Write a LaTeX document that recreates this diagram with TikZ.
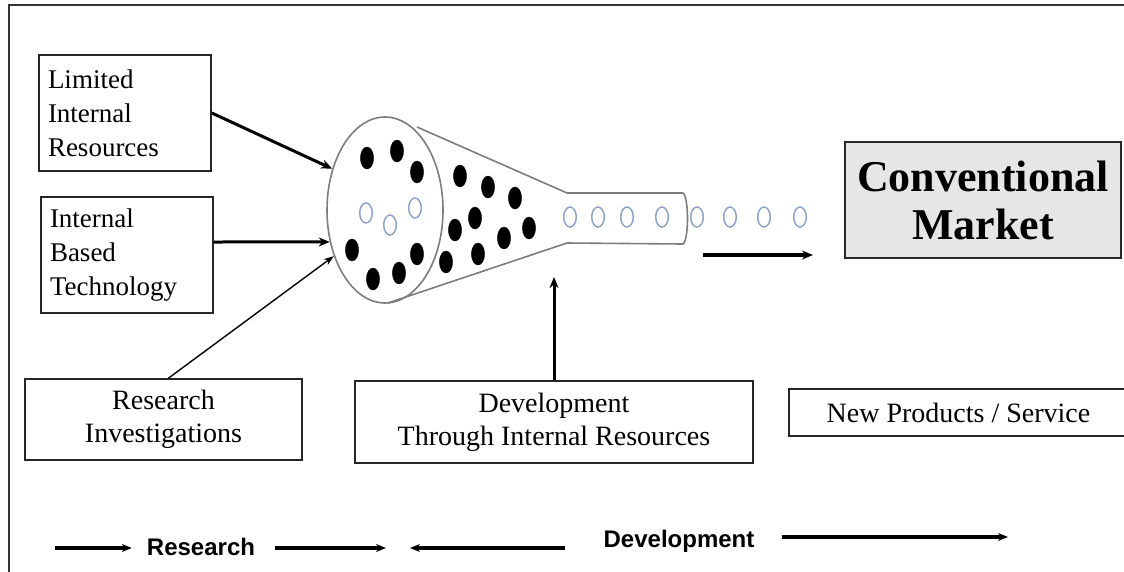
\documentclass[tikz,border=0pt]{standalone}
\usepackage{fontspec}
\setmainfont{Liberation Serif}
\newfontfamily\legendfont{Liberation Sans}
\usetikzlibrary{arrows.meta,shapes.geometric}
\definecolor{bubblecol}{RGB}{140,163,204}
\definecolor{funnelcol}{RGB}{125,125,125}
\definecolor{marketfill}{RGB}{230,230,230}
\begin{document}
\begin{tikzpicture}[x=1pt,y=-1pt,
  box/.style={draw=black!85, line width=1.7pt, inner sep=0pt,
    font=\fontsize{27}{34}\selectfont},
  boxtext/.style={font=\fontsize{28}{33}\selectfont},
  flow/.style={-{Stealth[length=11pt,width=9pt]}, line width=3pt},
  thinflow/.style={-{Stealth[length=10pt,width=7pt]}, line width=1.4pt},
  legendarrow/.style={-{Stealth[length=10pt,width=8pt]}, line width=3.2pt},
  dot/.style={fill=black, draw=black},
  bubble/.style={draw=bubblecol, line width=1.5pt},
  funnel/.style={draw=funnelcol, line width=1.6pt},
  legend/.style={font=\legendfont\bfseries\fontsize{24}{28}\selectfont, inner sep=0pt},
]
\useasboundingbox (0,0) rectangle (1124,571);
\clip (0,0) rectangle (1124,571);

% outer frame (left and top edges)
\draw[line width=2.6pt, black!80] (9,575) -- (9,5) -- (1130,5);

% input boxes
\node[box, minimum width=172, minimum height=116, text width=154, align=left]
  (lim) at (125,113) {Limited\\Internal\\Resources};
\node[box, minimum width=172, minimum height=116, text width=154, align=left]
  (ibt) at (127,255) {Internal\\Based\\Technology};
\node[box, boxtext, minimum width=277, minimum height=81, align=center]
  (res) at (163.5,419.5) {Research\\Investigations};
\node[box, boxtext, minimum width=398, minimum height=82, align=center]
  (dev) at (554,422) {Development\\Through Internal Resources};
\node[box, boxtext, minimum width=339, minimum height=47]
  (new) at (958.5,412.5) {New Products / Service};
\node[box, fill=marketfill, font=\bfseries\fontsize{44}{48}\selectfont,
  minimum width=276, minimum height=116, align=center]
  (mkt) at (983,200) {Conventional\\Market};

% funnel: mouth, cone and neck
\node[ellipse, funnel, minimum width=116, minimum height=186, inner sep=0pt]
  (mouth) at (385,210) {};
\draw[funnel] (417,127) -- (567,193) -- (683,193)
  .. controls (689,197) and (689,240) .. (683,244) -- (567,243) -- (388,303);

% ideas inside the funnel
\foreach \p in {(367,158),(397,151),(417,172),(460,176),(488,187),(515,198),
  (475,218),(455,230),(529,228),(504,238),(352,250),(373,279),(399,273),
  (417,254),(446,262),(478,254)}
  \fill[dot] \p ellipse [x radius=6.6, y radius=11];
\foreach \p in {(366,213),(390,225),(415,208)}
  \draw[bubble] \p ellipse [x radius=6.3, y radius=10];
\foreach \x in {570,598,627,662,697,730,764,800}
  \draw[bubble] (\x,217) ellipse [x radius=6.3, y radius=10];

% inputs into the funnel
\draw[flow] (lim.east) -- (mouth.142);
\draw[flow] ([yshift=13pt]ibt.east) -- (mouth.210);
\draw[thinflow] ([xshift=5pt]res.north) -- (mouth.222);

\coordinate (devtip) at (554,277);
\draw[flow] (dev.north) -- (devtip);

\coordinate (outA) at (703,255);
\coordinate (outB) at (813,255);
\draw[flow, line width=3.4pt] (outA) -- (outB);

% legend row
\node[legend] (lres) at (201,547) {Research};
\node[legend] (ldev) at (679,541) {Development};
\coordinate (r1) at (55,548);
\draw[legendarrow] (r1) -- ([xshift=-15pt]lres.west |- r1);
\draw[legendarrow] ([xshift=20pt]lres.east |- r1) -- (386,548);
\coordinate (d0) at (410,548);
\draw[legendarrow] (565,548) -- (d0);
\coordinate (d2) at (1008,537);
\draw[legendarrow] ([xshift=27pt]ldev.east |- d2) -- (d2);
\end{tikzpicture}
\end{document}
